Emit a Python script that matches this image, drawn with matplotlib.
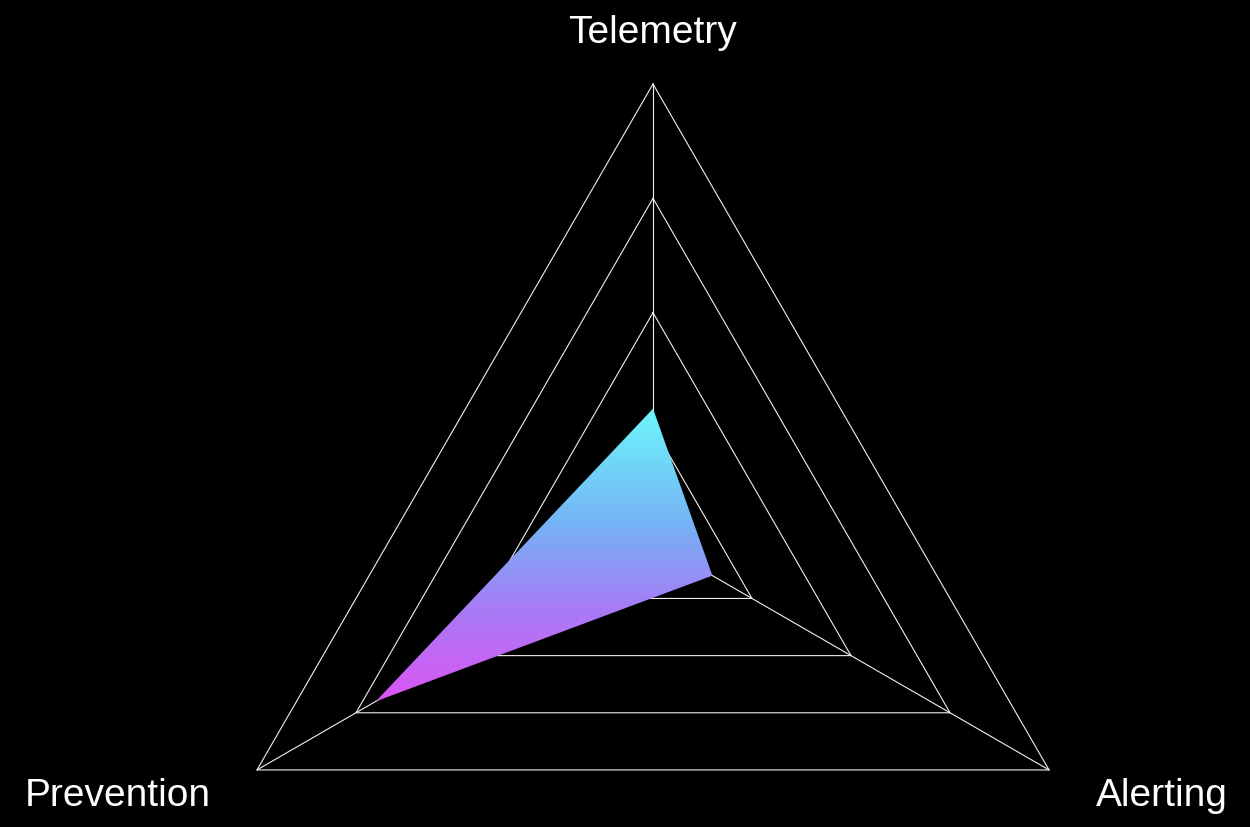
import numpy as np
import matplotlib
matplotlib.use("Agg")
import matplotlib.pyplot as plt
from matplotlib.colors import LinearSegmentedColormap
from matplotlib.patches import Polygon

# chart data
categories = ["Telemetry", "Alerting", "Prevention"]
values = [29, 15, 70]
max_value = 100
grid_levels = [25, 50, 75, 100]

# axis directions (degrees): top, lower right, lower left
angles = np.deg2rad([90, -30, 210])

W, H = 1250, 828
cx, cy_top, R = 653, 542.3, 457.3  # centre and outer radius in pixels

fig = plt.figure(figsize=(W / 100, H / 100), dpi=100, facecolor="black")
ax = fig.add_axes([0, 0, 1, 1])
ax.set_facecolor("black")
ax.set_xlim(-cx / R, (W - cx) / R)
ax.set_ylim(-(H - cy_top) / R, cy_top / R)
ax.set_aspect("equal")
ax.axis("off")

# grid triangles and spokes
for lvl in grid_levels:
    r = lvl / max_value
    xs = r * np.cos(angles)
    ys = r * np.sin(angles)
    ax.plot(np.append(xs, xs[0]), np.append(ys, ys[0]), color="#f0f0f0", lw=0.8, zorder=1)
for a in angles:
    ax.plot([0, np.cos(a)], [0, np.sin(a)], color="#f0f0f0", lw=0.8, zorder=1)

# data polygon with a vertical gradient
r = np.array(values) / max_value
px = r * np.cos(angles)
py = r * np.sin(angles)
poly = Polygon(np.column_stack([px, py]), closed=True, facecolor="none", edgecolor="none", zorder=2)
ax.add_patch(poly)
cmap = LinearSegmentedColormap.from_list(
    "grad", [(0.0, "#dc55f5"), (0.32, "#a67cf5"), (0.6, "#76b2f6"), (1.0, "#6cf6fb")])
grad = np.linspace(0, 1, 256).reshape(-1, 1)
img = ax.imshow(grad, cmap=cmap, origin="lower", aspect="auto",
                extent=[px.min(), px.max(), py.min(), py.max()], zorder=2)
img.set_clip_path(poly)

# labels
label_pos = [(0, (H - 33 - (H - cy_top)) / R),
             ((1162 - cx) / R, (H - 796 - (H - cy_top)) / R),
             ((118 - cx) / R, (H - 796 - (H - cy_top)) / R)]
for name, (lx, ly) in zip(categories, label_pos):
    ax.text(lx, ly, name, color="white", fontsize=28, family="Liberation Sans",
            ha="center", va="center")

fig.savefig("out.png", dpi=100, facecolor="black")
